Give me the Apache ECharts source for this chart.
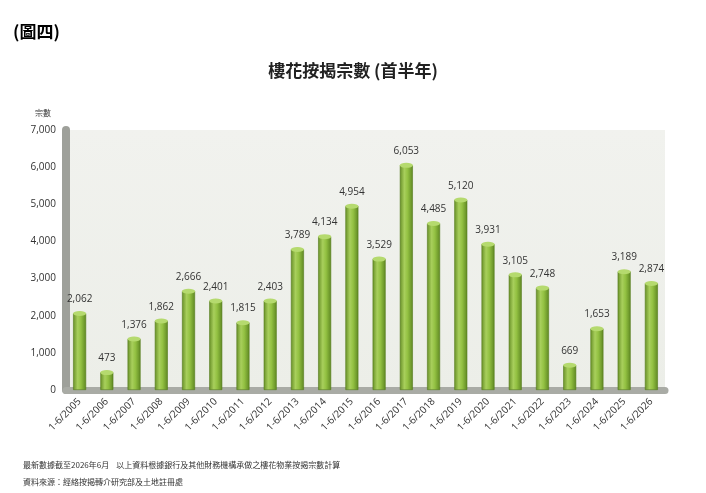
<!DOCTYPE html>
<html>
<head>
<meta charset="utf-8">
<script src="https://cdn.jsdelivr.net/npm/echarts@6/dist/echarts.min.js"></script>
<style>
  html, body { margin: 0; padding: 0; background: #fff; }
  #main { width: 706px; height: 493px; }
</style>
</head>
<body>
<div id="main"></div>
<script>
var years = ['2005', '2006', '2007', '2008', '2009', '2010', '2011', '2012', '2013', '2014', '2015',
  '2016', '2017', '2018', '2019', '2020', '2021', '2022', '2023', '2024', '2025', '2026'];
var categories = years.map(function (y) { return '1-6/' + y; });
var cases = [2062, 473, 1376, 1862, 2666, 2401, 1815, 2403, 3789, 4134, 4954,
  3529, 6053, 4485, 5120, 3931, 3105, 2748, 669, 1653, 3189, 2874];
var yTicks = [0, 1000, 2000, 3000, 4000, 5000, 6000, 7000];

var chartDom = document.getElementById('main');
var myChart = echarts.init(chartDom);
var fontCJK = '"Noto Sans CJK TC", "Noto Sans", sans-serif';

// cylinder look: dark edges, light middle
var barGradient = new echarts.graphic.LinearGradient(0, 0, 1, 0, [
  { offset: 0, color: '#678f27' },
  { offset: 0.35, color: '#a8cf5c' },
  { offset: 0.6, color: '#93c142' },
  { offset: 1, color: '#5e8722' }
]);

var option = {
  backgroundColor: '#ffffff',
  animation: false,
  title: [
    {
      text: '(圖四)',
      left: 8, top: 18,
      textStyle: { fontFamily: fontCJK, fontSize: 17, fontWeight: 'bold', color: '#000' }
    },
    {
      text: '樓花按揭宗數 (首半年)',
      left: 'center', top: 57,
      textStyle: { fontFamily: fontCJK, fontSize: 17, fontWeight: 'bold', color: '#222' }
    },
    {
      text: '宗數',
      left: 30, top: 104,
      textStyle: { fontFamily: fontCJK, fontSize: 8, fontWeight: 'normal', color: '#333' }
    },
    {
      text: '最新數據截至2026年6月    以上資料根據銀行及其他財務機構承做之樓花物業按揭宗數計算',
      left: 18, top: 456,
      textStyle: { fontFamily: fontCJK, fontSize: 8, fontWeight: 'normal', color: '#333' }
    },
    {
      text: '資料來源：經絡按揭轉介研究部及土地註冊處',
      left: 18, top: 473,
      textStyle: { fontFamily: fontCJK, fontSize: 8, fontWeight: 'normal', color: '#333' }
    }
  ],
  grid: {
    left: 66, right: 41, top: 130, bottom: 103,
    show: true,
    borderWidth: 0,
    backgroundColor: new echarts.graphic.LinearGradient(0, 0, 0, 1, [
      { offset: 0, color: '#f1f2ee' },
      { offset: 1, color: '#eceee8' }
    ])
  },
  xAxis: {
    type: 'category',
    data: categories,
    axisTick: { show: false },
    axisLine: { show: true, onZero: false, lineStyle: { color: '#a9aba5', width: 7 } },
    axisLabel: {
      rotate: 45, interval: 0, margin: 10,
      fontFamily: 'Open Sans, sans-serif', fontSize: 10, color: '#333'
    }
  },
  yAxis: {
    type: 'value',
    min: 0, max: 7000, interval: 1000,
    axisLine: { show: true, lineStyle: { color: '#9ea09a', width: 8 } },
    axisTick: { show: false },
    splitLine: { show: false },
    axisLabel: {
      margin: 10,
      fontFamily: 'Open Sans, sans-serif', fontSize: 10, color: '#333',
      formatter: function (v) { return yTicks.indexOf(v) >= 0 ? v.toLocaleString('en-US') : ''; }
    }
  },
  series: [
    {
      type: 'bar',
      data: cases,
      barWidth: 13,
      itemStyle: { color: barGradient, borderColor: '#557c1d', borderWidth: 0.6 },
      label: {
        show: true, position: 'top', distance: 9,
        fontFamily: 'Open Sans, sans-serif', fontSize: 10, color: '#333',
        formatter: function (p) { return p.value.toLocaleString('en-US'); }
      },
      z: 2
    },
    {
      type: 'pictorialBar',
      data: cases,
      symbol: 'circle',
      symbolSize: [13, 5],
      symbolPosition: 'end',
      symbolOffset: [0, '-50%'],
      barGap: '-100%',
      itemStyle: { color: '#b5da6e', borderColor: '#628b24', borderWidth: 0.6 },
      z: 3,
      silent: true
    }
  ]
};

option && myChart.setOption(option);
</script>
</body>
</html>
